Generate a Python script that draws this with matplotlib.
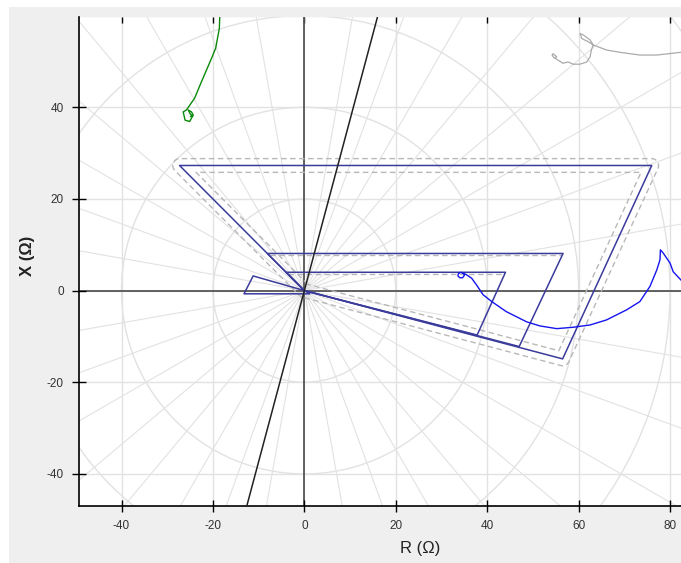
"""R-X impedance plane with distance protection zones and impedance trajectories."""
import numpy as np
import matplotlib
matplotlib.use('Agg')
import matplotlib.pyplot as plt
from matplotlib.patches import Circle, Rectangle

# zone characteristics (R, X in ohm), closed polygons
ZONE3_R = [0.0, -27.3, 76.0, 56.5, 0.0]
ZONE3_X = [0.0, 27.3, 27.3, -14.9, 0.0]
ZONE2_R = [0.0, -8.1, 56.6, 47.0, 0.0]
ZONE2_X = [0.0, 8.1, 8.1, -12.2, 0.0]
ZONE1_R = [0.0, -4.0, 44.0, 37.8, 0.0]
ZONE1_X = [0.0, 4.0, 4.0, -9.7, 0.0]
ZREV_R = [0.0, -11.2, -13.2, 1.2, 0.0]
ZREV_X = [0.0, 3.2, -0.7, -0.7, 0.0]

# tolerance band of zone 3 (ohm) and top edges of zone 1/2 as measured
ZONE3_TOL = 1.5
Z2_TOP_R = [-7.6, 56.2]
Z2_TOP_X = [7.8, 7.8]
Z1_TOP_R = [-3.6, 43.6]
Z1_TOP_X = [3.7, 3.7]

# line angle (deg)
LINE_ANGLE = 75.0

# trajectories
GREEN_R = [-18.4, -18.5, -18.6, -19.4, -20.3, -22.5, -24.0, -25.8, -26.5,
           -26.1, -25.1, -24.3, -24.7, -25.4, -25.0, -24.6, -24.9]
GREEN_X = [62.0, 59.8, 57.2, 52.9, 50.7, 45.6, 42.0, 39.4, 39.0,
           37.2, 36.9, 38.3, 39.0, 39.4, 38.6, 38.2, 38.0]

GREY_R = [54.6, 54.2, 54.4, 55.2, 54.8, 55.5, 56.6, 57.7, 58.8, 60.3, 61.8,
          62.5, 62.8, 63.2, 62.5, 61.0, 60.3, 60.7, 62.1, 63.2, 66.1, 69.0,
          73.4, 77.1, 80.7, 82.4, 86.0]
GREY_X = [50.8, 51.4, 51.7, 51.0, 50.7, 50.3, 49.6, 49.9, 49.4, 49.4, 49.9,
          51.0, 52.5, 53.6, 54.7, 55.8, 56.1, 55.0, 54.3, 53.6, 52.5, 52.0,
          51.4, 51.4, 51.8, 52.0, 52.3]

BLUE_R = [34.6, 34.2, 33.7, 33.6, 34.0, 34.6, 35.0, 34.8, 35.4, 36.6, 37.7,
          39.1, 41.0, 44.2, 48.6, 51.5, 55.2, 58.8, 62.5, 66.1, 70.5, 73.4,
          75.6, 77.1, 77.8, 77.9, 78.5, 80.0, 80.7, 82.4, 84.0]
BLUE_X = [3.8, 4.0, 3.7, 3.2, 2.8, 2.8, 3.3, 3.8, 3.5, 2.7, 1.2,
          -0.9, -2.4, -4.6, -6.8, -7.7, -8.3, -8.0, -7.5, -6.4, -4.2, -2.4,
          0.9, 4.5, 6.7, 8.9, 8.2, 6.0, 4.1, 2.3, 0.6]

TICKS = [-40, -20, 0, 20, 40, 60, 80]
GRID_RADII = [20, 40, 60, 80, 100, 120]

NAVY = '#3b3b9c'
DASH_GREY = '#b8b8b8'
GRID_GREY = '#e2e2e2'

plt.rcParams.update({
    'font.family': ['Liberation Sans', 'DejaVu Sans'],
    'axes.unicode_minus': False,
})


def offset_lines(r, x, d):
    """Offset each edge of a clockwise polygon outward by d."""
    pts = np.column_stack([r[:-1], x[:-1]])
    n = len(pts)
    lines = []
    for i in range(n):
        p, q = pts[i], pts[(i + 1) % n]
        t = (q - p) / np.linalg.norm(q - p)
        nrm = np.array([-t[1], t[0]])  # left normal -> outward for clockwise
        lines.append((p + d * nrm, q + d * nrm, nrm))
    return pts, lines


def inner_polygon(r, x, d):
    pts, lines = offset_lines(r, x, -d)
    n = len(lines)
    out = []
    for i in range(n):
        a1, a2, _ = lines[i - 1]
        b1, b2, _ = lines[i]
        da, db = a2 - a1, b2 - b1
        m = np.array([da, -db]).T
        s = np.linalg.solve(m, b1 - a1)
        out.append(a1 + s[0] * da)
    out.append(out[0])
    out = np.array(out)
    return out[:, 0], out[:, 1]


def rounded_outer(r, x, d):
    pts, lines = offset_lines(r, x, d)
    n = len(lines)
    path = []
    for i in range(n):
        _, _, n_prev = lines[i - 1]
        p1, p2, n_cur = lines[i]
        a0 = np.arctan2(n_prev[1], n_prev[0])
        a1 = np.arctan2(n_cur[1], n_cur[0])
        # clockwise polygon -> normals rotate clockwise
        while a1 > a0:
            a1 -= 2 * np.pi
        arc = np.linspace(a0, a1, 12)
        c = pts[i]
        path.extend(list(np.column_stack([c[0] + d * np.cos(arc),
                                          c[1] + d * np.sin(arc)])))
        path.append(p1)
        path.append(p2)
    path.append(path[0])
    path = np.array(path)
    return path[:, 0], path[:, 1]


def main():
    fig = plt.figure(figsize=(6.81, 5.63), dpi=100)
    fig.patch.set_facecolor('white')
    fig.patches.append(Rectangle((9 / 681, 0), 1, 1 - 7 / 563,
                                 transform=fig.transFigure,
                                 facecolor='#efefef', edgecolor='none',
                                 zorder=-10))

    ax = fig.add_axes([79 / 681, 1 - 506 / 563, 602 / 681, 489 / 563])
    ax.set_facecolor('white')
    ax.set_xlim(-49.3, 82.4)
    ax.set_ylim(-47.0, 59.7)

    # polar style grid
    for rad in GRID_RADII:
        ax.add_patch(Circle((0, 0), rad, fill=False, edgecolor=GRID_GREY,
                            linewidth=1.0, zorder=0))
    for ang in np.arange(0, 360, 10):
        a = np.deg2rad(ang)
        ax.plot([0, 200 * np.cos(a)], [0, 200 * np.sin(a)],
                color=GRID_GREY, linewidth=0.8, zorder=0)
    for t in TICKS:
        if t != 0:
            ax.axvline(t, color=GRID_GREY, linewidth=1.0, zorder=0)
            ax.axhline(t, color=GRID_GREY, linewidth=1.0, zorder=0)

    ax.axhline(0, color='#555555', linewidth=1.3, zorder=1)
    ax.axvline(0, color='#555555', linewidth=1.3, zorder=1)

    # tolerance band around zone 3
    dash = dict(color=DASH_GREY, linewidth=1.0, linestyle=(0, (4, 2.5)), zorder=2)
    ro, xo = rounded_outer(ZONE3_R, ZONE3_X, ZONE3_TOL)
    ax.plot(ro, xo, **dash)
    ri, xi = inner_polygon(ZONE3_R, ZONE3_X, ZONE3_TOL)
    ax.plot(ri, xi, **dash)
    ax.plot(Z2_TOP_R, Z2_TOP_X, **dash)
    ax.plot(Z1_TOP_R, Z1_TOP_X, **dash)

    # zones
    for r, x in [(ZONE3_R, ZONE3_X), (ZONE2_R, ZONE2_X),
                 (ZONE1_R, ZONE1_X), (ZREV_R, ZREV_X)]:
        ax.plot(r, x, color=NAVY, linewidth=1.1, zorder=3)

    # line angle
    a = np.deg2rad(LINE_ANGLE)
    ax.plot([-100 * np.cos(a), 100 * np.cos(a)], [-100 * np.sin(a), 100 * np.sin(a)],
            color='#222222', linewidth=1.1, zorder=3)

    # trajectories
    ax.plot(GREEN_R, GREEN_X, color='#0a8a0a', linewidth=1.0, zorder=4)
    ax.plot(GREY_R, GREY_X, color='#aaaaaa', linewidth=0.9, zorder=4)
    ax.plot(BLUE_R, BLUE_X, color='#1515ee', linewidth=1.0, zorder=4)

    # axes styling
    for side in ['top', 'right']:
        ax.spines[side].set_visible(False)
    for side in ['left', 'bottom']:
        ax.spines[side].set_color('black')
        ax.spines[side].set_linewidth(1.2)

    ax.set_xticks(TICKS)
    ax.set_yticks([t for t in TICKS if t <= 40])
    ax.tick_params(axis='y', direction='inout', length=10, width=1.0,
                   pad=6, labelsize=8.5, labelcolor='#333333')
    ax.tick_params(axis='x', direction='inout', length=8, width=1.0,
                   pad=6, labelsize=8.5, labelcolor='#333333')

    sec = ax.secondary_xaxis('top')
    sec.set_xticks(TICKS)
    sec.tick_params(direction='in', length=4, width=1.0, labeltop=False)
    sec.spines['top'].set_visible(False)

    ax.text(0.566, -0.086, 'R (Ω)', transform=ax.transAxes, ha='center',
            va='center', fontsize=12, color='#222222')
    ax.text(-0.086, 0.511, 'X (Ω)', transform=ax.transAxes, ha='center',
            va='center', fontsize=12, fontweight='bold', rotation=90,
            color='#222222')

    fig.savefig('out.png', dpi=100)
    plt.close(fig)


if __name__ == '__main__':
    main()
